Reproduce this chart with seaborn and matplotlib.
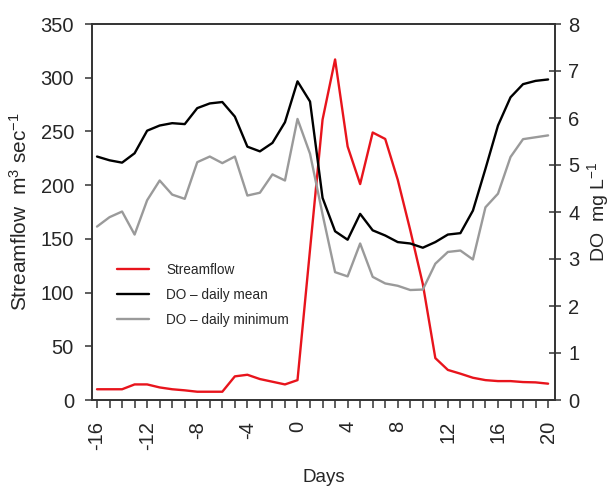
import numpy as np
import pandas as pd
import matplotlib
matplotlib.use("Agg")
import matplotlib.pyplot as plt
from matplotlib.ticker import MultipleLocator
import seaborn as sns

days = list(range(-16, 21))
streamflow = [10, 10, 10, 14.5, 14.5, 11.7, 10, 9, 7.7, 7.7, 7.7, 22, 23.5, 19.5, 17, 14.5,
              18.5, 140, 261, 317, 236, 201, 249, 243, 205, 158, 108, 39, 28, 24.5, 20.7,
              18.5, 17.6, 17.6, 16.7, 16.4, 15.2]
do_mean = [5.18, 5.10, 5.05, 5.25, 5.73, 5.84, 5.89, 5.87, 6.21, 6.31, 6.34, 6.03, 5.39,
           5.29, 5.47, 5.91, 6.78, 6.35, 4.30, 3.59, 3.41, 3.96, 3.61, 3.50, 3.36, 3.33,
           3.24, 3.36, 3.52, 3.55, 4.03, 4.92, 5.84, 6.44, 6.72, 6.79, 6.82]
do_min = [3.69, 3.89, 4.01, 3.52, 4.25, 4.67, 4.37, 4.28, 5.06, 5.18, 5.04, 5.18, 4.35,
          4.41, 4.80, 4.67, 5.98, 5.24, 3.95, 2.72, 2.63, 3.33, 2.62, 2.48, 2.43, 2.34,
          2.35, 2.90, 3.15, 3.18, 2.99, 4.10, 4.39, 5.17, 5.55, 5.59, 5.63]
x_ticks = list(range(-16, 21, 4))
left_ticks = list(range(0, 351, 50))
right_ticks = list(range(0, 9))

df = pd.DataFrame({"Days": days, "Streamflow": streamflow,
                   "DO_mean": do_mean, "DO_min": do_min})

sns.set_style("ticks")
plt.rcParams["font.family"] = ["Liberation Sans", "DejaVu Sans"]
plt.rcParams["mathtext.fontset"] = "custom"
plt.rcParams["mathtext.rm"] = "Liberation Sans"
plt.rcParams["mathtext.it"] = "Liberation Sans:italic"
plt.rcParams["mathtext.default"] = "regular"

fig = plt.figure(figsize=(6.16, 4.87), dpi=100)
ax = fig.add_axes([92/616, 1-400/487, (555-92)/616, (400-24)/487])
ax2 = ax.twinx()

sns.lineplot(data=df, x="Days", y="Streamflow", ax=ax, color="#e8141c",
             linewidth=1.7, label="Streamflow", legend=False)
sns.lineplot(data=df, x="Days", y="DO_mean", ax=ax2, color="#000000",
             linewidth=1.7, label="DO \u2013 daily mean", legend=False)
sns.lineplot(data=df, x="Days", y="DO_min", ax=ax2, color="#9a9a9a",
             linewidth=1.7, label="DO \u2013 daily minimum", legend=False)

ax.set_xlim(-16.4, 20.55)
ax.set_ylim(0, 350)
ax2.set_ylim(0, 8)
ax.set_xticks(x_ticks)
ax.set_xticklabels([str(t) for t in x_ticks], rotation=90)
ax.xaxis.set_minor_locator(MultipleLocator(1))
ax.set_yticks(left_ticks)
ax2.set_yticks(right_ticks)

spine_c = "#333333"
for a in (ax, ax2):
    for s in a.spines.values():
        s.set_color(spine_c)
        s.set_linewidth(1.2)

ax.tick_params(axis="x", which="both", direction="out", length=6, width=1.1,
               color=spine_c, labelsize=14.5, pad=9)
ax.tick_params(axis="y", direction="out", length=5, width=1.1, color=spine_c,
               labelsize=14.5, pad=8)
ax2.tick_params(axis="y", direction="inout", length=9, width=1.1, color=spine_c,
                labelsize=14.5, pad=5)

ax.set_xlabel("Days", fontsize=13.5, labelpad=14)
ax.set_ylabel("Streamflow  m$^{3}$ sec$^{\u002d1}$", fontsize=15, labelpad=7)
ax2.set_ylabel("DO  mg L$^{\u002d1}$", fontsize=14, labelpad=4)

h1, lab1 = ax.get_legend_handles_labels()
h2, lab2 = ax2.get_legend_handles_labels()
leg = ax2.legend(h1 + h2, lab1 + lab2, loc="upper left",
                 bbox_to_anchor=(0.055, 0.365), frameon=False, fontsize=9.8,
                 handlelength=2.3, handletextpad=1.3, labelspacing=0.8,
                 borderpad=0, borderaxespad=0)

fig.savefig("out.png", dpi=100)
